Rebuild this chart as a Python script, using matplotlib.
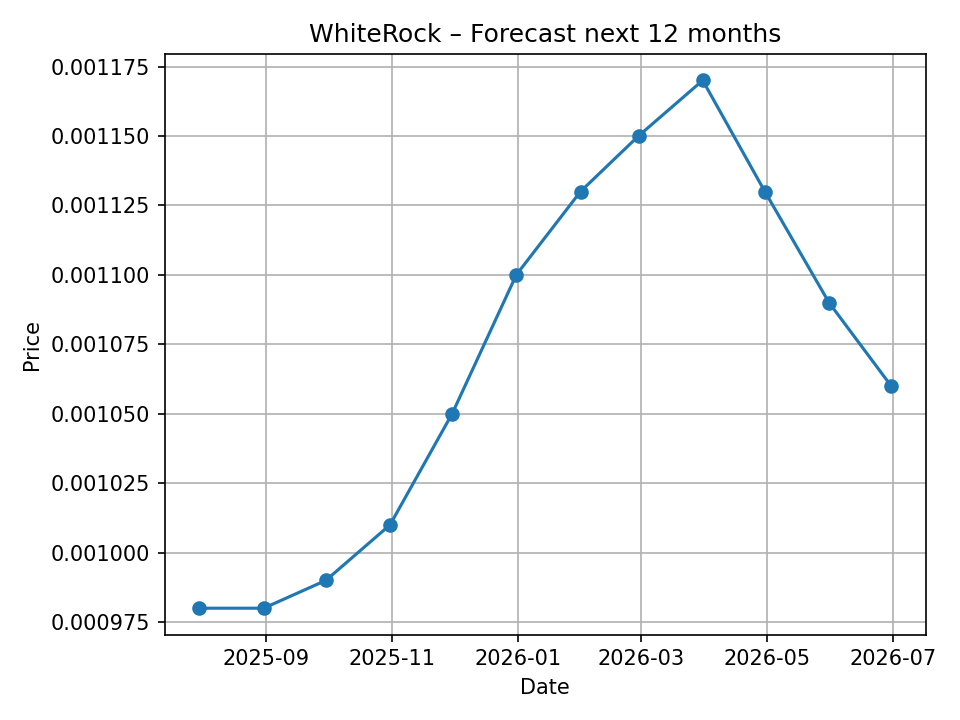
import matplotlib
matplotlib.use("Agg")
import matplotlib.pyplot as plt
import pandas as pd

dates = pd.to_datetime([
    "2025-07-31", "2025-08-31", "2025-09-30", "2025-10-31",
    "2025-11-30", "2025-12-31", "2026-01-31", "2026-02-28",
    "2026-03-31", "2026-04-30", "2026-05-31", "2026-06-30",
])
prices = [0.00098, 0.00098, 0.00099, 0.00101, 0.00105, 0.00110,
          0.00113, 0.00115, 0.00117, 0.00113, 0.00109, 0.00106]

fig, ax = plt.subplots(figsize=(6.4, 4.8), dpi=150)
ax.plot(dates, prices, marker="o")
ax.set_title("WhiteRock – Forecast next 12 months")
ax.set_xlabel("Date")
ax.set_ylabel("Price")
ax.grid(True)
fig.tight_layout()
fig.savefig("out.png")
